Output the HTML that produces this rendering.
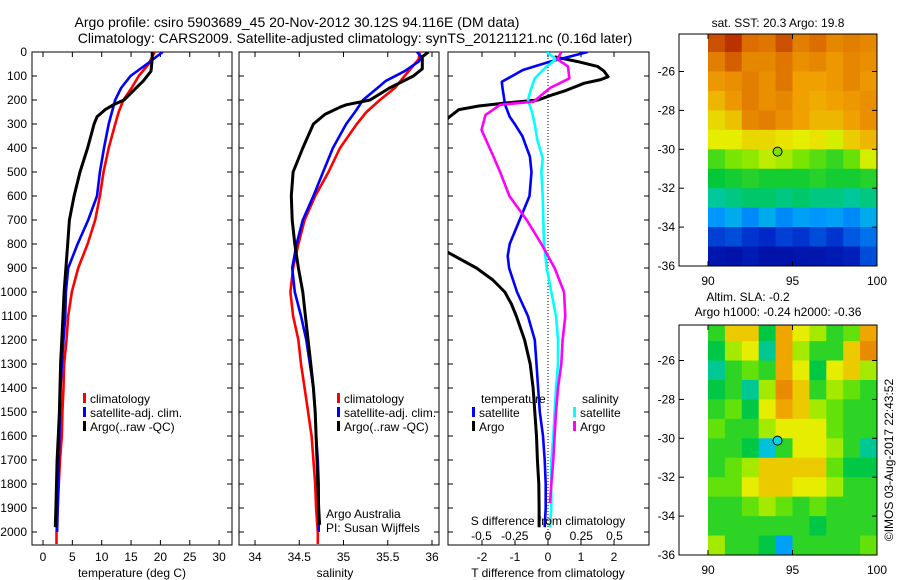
<!DOCTYPE html>
<html><head><meta charset="utf-8">
<style>
body{margin:0;background:#fff;}
svg{display:block;font-family:"Liberation Sans",sans-serif;}
text{fill:#000;}
</style></head>
<body>
<svg id="fig" width="900" height="580" viewBox="0 0 900 580">
<defs>
<clipPath id="c1"><rect x="32" y="52" width="200" height="493"/></clipPath>
<clipPath id="c2"><rect x="239" y="52" width="200" height="493"/></clipPath>
<clipPath id="c3"><rect x="448" y="52" width="201" height="493"/></clipPath>
<clipPath id="cm1"><rect x="708" y="34" width="169" height="232"/></clipPath>
<clipPath id="cm2"><rect x="708" y="325" width="169" height="231"/></clipPath>
</defs>
<text x="297" y="27" font-size="14" text-anchor="middle">Argo profile: csiro 5903689_45 20-Nov-2012 30.12S 94.116E (DM data)</text>
<text x="355" y="43" font-size="14" text-anchor="middle">Climatology: CARS2009. Satellite-adjusted climatology: synTS_20121121.nc (0.16d later)</text>
<g id="g"></g>
</svg>
<script>
// ---- temperature profiles ----
const tClimDepth=[0,50,100,150,200,250,300,400,500,600,700,800,900,1000,1100,1200,1300,1400,1500,1600,1700,1800,1900,2000,2050];
const tClim=[19.0,18.0,16.3,15.1,13.7,12.9,12.3,11.2,10.3,9.7,8.9,7.6,6.0,4.9,4.3,4.0,3.6,3.5,3.3,3.2,2.9,2.7,2.5,2.3,2.3];
const tSatDepth=[0,50,100,150,200,300,400,500,600,700,800,900,1000,1100,1200,1300,1400,1500,1600,1700,1800,1900,2000];
const tSat=[20.4,17.7,14.9,13.3,12.3,11.2,10.4,9.7,9.2,7.7,5.9,4.3,3.9,3.8,3.5,3.2,3.0,2.9,2.8,2.7,2.6,2.5,2.4];
const tArgoDepth=[0,30,80,120,200,220,240,270,300,400,500,600,700,800,900,1000,1100,1200,1300,1400,1500,1600,1700,1800,1900,1980];
const tArgo=[18.6,18.6,18.4,17.1,13.8,12.0,10.6,9.2,8.7,7.6,6.3,5.3,4.5,4.2,3.9,3.6,3.4,3.2,3.0,2.9,2.8,2.6,2.4,2.3,2.2,2.1];
// ---- salinity profiles ----
const sClimDepth=[0,30,100,150,200,250,300,400,500,600,700,800,900,1000,1100,1200,1300,1400,1500,1600,1700,1800,1900,2000,2050];
const sClim=[35.86,35.85,35.69,35.58,35.41,35.26,35.15,34.96,34.83,34.68,34.56,34.49,34.43,34.40,34.43,34.49,34.52,34.56,34.60,34.64,34.66,34.68,34.69,34.71,34.71];
const sSatDepth=[0,20,40,80,120,200,250,300,400,500,600,700,800,900,1000,1100,1200,1300,1400,1500,1600,1700,1800,1900,2000];
const sSat=[35.83,35.88,35.85,35.69,35.48,35.22,35.13,35.03,34.88,34.77,34.66,34.54,34.47,34.42,34.45,34.52,34.58,34.62,34.66,34.68,34.69,34.71,34.72,34.72,34.72];
const sArgoDepth=[0,20,70,100,150,200,220,230,260,300,400,500,600,700,800,900,1000,1100,1200,1300,1400,1500,1600,1700,1800,1900,1970];
const sArgo=[35.96,35.89,35.89,35.79,35.52,35.30,35.03,34.96,34.79,34.66,34.54,34.43,34.41,34.42,34.45,34.49,34.54,34.57,34.60,34.63,34.66,34.68,34.69,34.70,34.71,34.72,34.73];
// ---- differences ----
const dTSatDepth=[0,40,75,124,150,220,270,300,350,436,500,600,700,800,850,900,1000,1100,1200,1300,1400,1500,1600,1700,1800,1900,1980];
const dTSat=[1.2,0.06,-0.76,-1.4,-1.38,-1.3,-1.16,-1.01,-0.78,-0.55,-0.5,-0.56,-0.86,-1.16,-1.22,-1.18,-0.94,-0.61,-0.40,-0.35,-0.30,-0.25,-0.15,-0.1,-0.07,-0.07,-0.1];
const dTArgoDepth=[20,40,60,80,103,115,130,160,180,200,212,225,240,275,400,600,800,835,900,950,1000,1050,1100,1200,1300,1400,1500,1600,1700,1800,1900,1980];
const dTArgo=[0.2,0.9,1.5,1.7,1.82,1.6,1.1,0.55,0.1,-0.3,-1.25,-2.1,-2.7,-3.03,-3.6,-3.6,-3.6,-3.03,-2.17,-1.67,-1.31,-1.11,-0.96,-0.71,-0.54,-0.45,-0.40,-0.35,-0.32,-0.28,-0.27,-0.27];
const dSSatDepth=[0,30,60,110,158,200,250,300,367,442,500,600,700,800,900,1000,1100,1200,1300,1400,1500,1600,1700,1800,1900,1980];
const dSSat=[-0.01,0.06,-0.01,-0.1,-0.13,-0.15,-0.12,-0.1,-0.08,-0.04,-0.05,-0.04,-0.035,-0.03,-0.01,0.025,0.06,0.075,0.075,0.06,0.05,0.04,0.025,0.025,0.025,0.015];
const dSArgoDepth=[0,30,60,110,150,207,220,262,325,436,500,600,700,800,900,1000,1100,1200,1300,1400,1500,1600,1700,1800,1880];
const dSArgo=[0.1,0.07,0.15,0.16,0.015,-0.11,-0.36,-0.47,-0.5,-0.41,-0.36,-0.29,-0.16,-0.05,0.05,0.12,0.13,0.11,0.1,0.075,0.06,0.05,0.04,0.025,0.015];
// ---- maps (rows lat -24.5..-35.5, cols lon 90.5..99.5) ----
const sstGrid=[
[21.9,22.1,21.7,21.6,21.9,21.5,21.7,21.4,21.5,21.4],
[21.5,21.8,21.4,21.4,21.6,21.3,21.4,21.2,21.4,21.3],
[21.2,21.3,21.5,21.3,21.6,21.1,21.1,21.2,21.4,21.2],
[20.9,21.2,21.5,21.3,21.4,21.1,21.0,21.1,21.2,21.3],
[20.6,20.8,21.4,21.5,21.3,21.1,20.9,20.9,21.1,21.3],
[20.4,20.4,20.6,20.6,20.5,20.4,20.5,20.3,20.7,20.9],
[19.6,19.9,20.0,20.2,20.1,19.9,19.7,19.5,19.8,20.3],
[19.2,19.3,19.4,19.3,19.3,19.3,19.4,19.3,19.3,19.4],
[18.8,18.9,19.0,19.0,18.9,19.0,18.9,18.9,18.8,18.9],
[18.1,18.3,18.0,18.3,18.0,18.2,18.1,18.2,18.0,18.3],
[17.4,17.5,17.3,17.2,17.4,17.3,17.5,17.3,17.6,17.8],
[16.8,16.7,16.9,16.7,16.7,16.8,16.8,16.9,17.0,17.5]];
const slaGrid=[
[-0.1,0.1,0.1,-0.15,0.15,0.05,0,-0.1,-0.05,0.15],
[-0.15,0,0.05,-0.2,0.15,0,-0.1,-0.1,0.1,0.2],
[-0.2,-0.1,-0.05,-0.1,0.15,0.05,-0.15,0.05,0.1,0],
[-0.15,-0.1,-0.2,0,0.2,0.1,-0.1,0,-0.05,-0.1],
[-0.1,-0.05,-0.15,0.05,0.15,0.1,0,-0.05,-0.1,-0.1],
[-0.05,-0.1,-0.1,0,0.05,0.05,0.05,-0.05,-0.1,-0.1],
[-0.1,-0.1,-0.15,-0.25,-0.1,0.05,0.05,0,-0.1,-0.2],
[-0.1,-0.05,0,0.1,0.1,0.1,0.1,-0.05,-0.15,-0.15],
[-0.05,-0.05,0.05,0.1,0.1,0.05,0.05,0,-0.1,-0.1],
[-0.1,-0.1,-0.05,0,-0.05,-0.1,-0.05,-0.1,-0.1,-0.1],
[-0.1,-0.1,-0.1,-0.1,-0.1,-0.1,-0.15,-0.1,-0.1,-0.1],
[0,-0.1,-0.1,-0.15,-0.3,-0.1,-0.1,-0.1,-0.1,-0.05]];
const mapLats=[-24.5,-25.5,-26.5,-27.5,-28.5,-29.5,-30.5,-31.5,-32.5,-33.5,-34.5,-35.5];
const mapLons=[90.5,91.5,92.5,93.5,94.5,95.5,96.5,97.5,98.5,99.5];
const floatLon=94.116, floatLat=-30.12;
const depthTicks=[0,100,200,300,400,500,600,700,800,900,1000,1100,1200,1300,1400,1500,1600,1700,1800,1900,2000];
const tTicks=[0,5,10,15,20,25,30];
const sTicks=[34,34.5,35,35.5,36];
const dTTicks=[-2,-1,0,1,2];
const dSTicks=[-0.5,-0.25,0,0.25,0.5];
const latTicks=[-26,-28,-30,-32,-34,-36];
const lonTicks=[90,95,100];

const NS="http://www.w3.org/2000/svg";
const G=document.getElementById('g');
function mk(tag,attrs,parent){const e=document.createElementNS(NS,tag);for(const k in attrs)e.setAttribute(k,attrs[k]);(parent||G).appendChild(e);return e;}
const yD=d=>52+d*0.24;
const xT=t=>43+t*5.87;
const xS=s=>255+(s-34)*88.5;
const xDT=v=>548+v*33;
const xDS=v=>548+v*133;

function panel(x0,w,name){
  const r=mk('rect',{x:x0,y:52,width:w,height:493,fill:'none',stroke:'#000','stroke-width':1});
  
  
  depthTicks.forEach(d=>{
    mk('line',{x1:x0,x2:x0+5,y1:yD(d),y2:yD(d),stroke:'#000'});
    mk('line',{x1:x0+w-5,x2:x0+w,y1:yD(d),y2:yD(d),stroke:'#000'});
  });
}
function xticks(vals,f,fmt,labelY){
  vals.forEach(v=>{
    const x=f(v);
    mk('line',{x1:x,x2:x,y1:545,y2:540,stroke:'#000'});
    mk('line',{x1:x,x2:x,y1:52,y2:57,stroke:'#000'});
    const t=mk('text',{x:x,y:labelY,'font-size':12,'text-anchor':'middle'});
    t.textContent=fmt?fmt(v):String(v);
    
    
  });
}
function line(depths,vals,fx,color,clip,name,wid){
  let d='';
  depths.forEach((dep,i)=>{d+=(i?'L':'M')+fx(vals[i]).toFixed(1)+','+yD(dep).toFixed(1);});
  const p=mk('path',{d:d,fill:'none',stroke:color,'stroke-width':wid||2.6,'stroke-linejoin':'round','clip-path':'url(#'+clip+')'});
  
  
}
function txt(x,y,s,name,size,anchor){
  const t=mk('text',{x:x,y:y,'font-size':size||12,'text-anchor':anchor||'start'});
  t.textContent=s;
  
  
  return t;
}
function legend(x,y,color,label,name){
  mk('rect',{x:x,y:y-10,width:3,height:10,fill:color});
  txt(x+7,y,label,name);
}

// panel 1
panel(32,200,'temperature-panel');
depthTicks.forEach(d=>txt(27,yD(d)+4,String(d),'depth-tick-label',12,'end'));
xticks(tTicks,xT,null,561);
txt(132,577,'temperature (deg C)','temperature-axis-title',12,'middle');
line(tClimDepth,tClim,xT,'#ff0000','c1','temp-climatology-line');
line(tSatDepth,tSat,xT,'#0000ff','c1','temp-satellite-line');
line(tArgoDepth,tArgo,xT,'#000000','c1','temp-argo-line',3);
legend(83,403,'#f00','climatology','legend-climatology');
legend(83,417,'#00f','satellite-adj. clim.','legend-satellite');
legend(83,431,'#000','Argo(..raw -QC)','legend-argo');

// panel 2
panel(239,200,'salinity-panel');
xticks(sTicks,xS,null,561);
txt(335,577,'salinity','salinity-axis-title',12,'middle');
line(sClimDepth,sClim,xS,'#ff0000','c2','sal-climatology-line');
line(sSatDepth,sSat,xS,'#0000ff','c2','sal-satellite-line');
line(sArgoDepth,sArgo,xS,'#000000','c2','sal-argo-line',3);
legend(337,403,'#f00','climatology','legend-climatology-2');
legend(337,417,'#00f','satellite-adj. clim.','legend-satellite-2');
legend(337,431,'#000','Argo(..raw -QC)','legend-argo-2');
txt(326,518,'Argo Australia','argo-australia-label');
txt(326,532,'PI: Susan Wijffels','pi-label');

// panel 3
panel(448,201,'difference-panel');
mk('line',{x1:548,x2:548,y1:52,y2:545,stroke:'#000','stroke-dasharray':'1,2'});
xticks(dTTicks,xDT,null,561);
txt(548,577,'T difference from climatology','t-diff-axis-title',12,'middle');
dSTicks.forEach(v=>txt(xDS(v),540,String(v),'s-diff-tick-label',12,'middle'));
line(dTArgoDepth,dTArgo,xDT,'#000000','c3','tdiff-argo-line',3);
line(dTSatDepth,dTSat,xDT,'#0000ff','c3','tdiff-satellite-line');
line(dSSatDepth,dSSat,xDS,'#00ffff','c3','sdiff-satellite-line');
line(dSArgoDepth,dSArgo,xDS,'#ff00ff','c3','sdiff-argo-line');
txt(548,525,'S difference from climatology','s-diff-axis-title',12,'middle');
txt(481,403,'temperature','legend-temperature-heading');
legend(472,417,'#00f','satellite','legend-t-satellite');
legend(472,431,'#000','Argo','legend-t-argo');
txt(582,403,'salinity','legend-salinity-heading');
legend(573,417,'#0ff','satellite','legend-s-satellite');
legend(573,431,'#f0f','Argo','legend-s-argo');

// maps
function jet(f){
  f=Math.max(0,Math.min(1,f));
  const stops=[[0,[0,0,140]],[0.15,[0,40,200]],[0.3,[0,150,255]],[0.38,[0,200,210]],[0.48,[0,200,60]],[0.6,[120,230,0]],[0.68,[230,240,0]],[0.8,[240,160,0]],[0.9,[220,110,0]],[1,[170,20,0]]];
  for(let i=1;i<stops.length;i++){if(f<=stops[i][0]){const a=stops[i-1],b=stops[i];const t=(f-a[0])/(b[0]-a[0]);const c=a[1].map((v,k)=>Math.round(v+(b[1][k]-v)*t));return 'rgb('+c.join(',')+')';}}
  return 'rgb(170,20,0)';
}
function drawMap(grid,vmin,vmax,y36,clip,name,markerFill){
  const xL=lon=>708+(lon-90)*16.9;
  const yL=lat=>y36-(lat+36)*19.45;
  const top=clip==='cm1'?34:325;
  const fr=mk('rect',{x:679,y:top,width:198,height:y36-top,fill:'#fff',stroke:'#000'});
  
  
  const g=mk('g',{'clip-path':'url(#'+clip+')'});
  
  
  grid.forEach((row,i)=>row.forEach((v,j)=>{
    const c=mk('rect',{x:xL(mapLons[j]-0.5),y:yL(mapLats[i]+0.5),width:17.4,height:20,fill:jet((v-vmin)/(vmax-vmin))},g);
    
    
  }));
  mk('rect',{x:679,y:top,width:198,height:y36-top,fill:'none',stroke:'#000'});
  latTicks.forEach(l=>{
    mk('line',{x1:679,x2:684,y1:yL(l),y2:yL(l),stroke:'#000'});
    mk('line',{x1:872,x2:877,y1:yL(l),y2:yL(l),stroke:'#000'});
    txt(675,yL(l)+4,String(l),'lat-tick-label',12,'end');
  });
  lonTicks.forEach(l=>{
    mk('line',{x1:xL(l),x2:xL(l),y1:y36,y2:y36-5,stroke:'#000'});
    mk('line',{x1:xL(l),x2:xL(l),y1:top,y2:top+5,stroke:'#000'});
    txt(xL(l),y36+19,String(l),'lon-tick-label',12,'middle');
  });
  const m=mk('circle',{cx:xL(floatLon),cy:yL(floatLat),r:4.5,fill:markerFill,stroke:'#000'});
  
  
}
drawMap(sstGrid,16.3,22.3,266,'cm1','sst-map','#80e000');
drawMap(slaGrid,-0.6,0.35,555,'cm2','sla-map','#00d8e8');
txt(778,27,'sat. SST: 20.3 Argo: 19.8','sst-map-title',12,'middle');
txt(748,301,'Altim. SLA: -0.2','sla-map-title',12,'middle');
txt(778,316,'Argo h1000: -0.24 h2000: -0.36','sla-map-subtitle',12,'middle');
const r=txt(0,0,'©IMOS 03-Aug-2017 22:43:52','imos-timestamp',12,'middle');
r.setAttribute('transform','translate(893,460) rotate(-90)');
</script>
</body></html>
